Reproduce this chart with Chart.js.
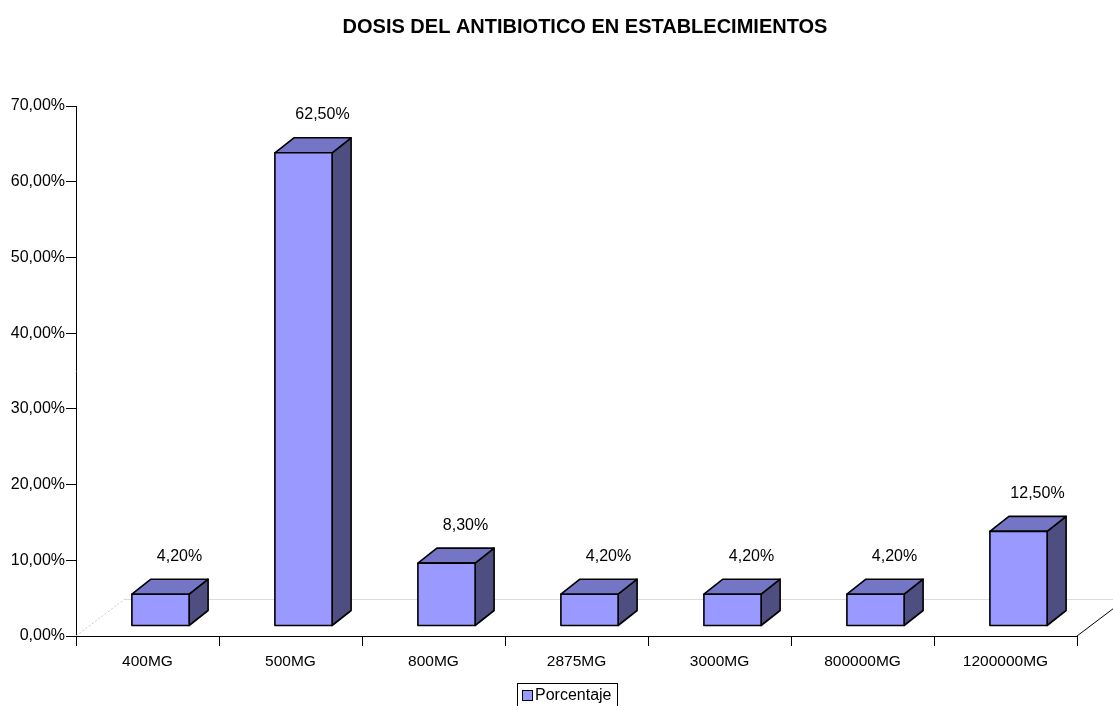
<!DOCTYPE html>
<html>
<head>
<meta charset="utf-8">
<title>Dosis del antibiotico</title>
<script src="https://cdn.jsdelivr.net/npm/chart.js@4/dist/chart.umd.min.js"></script>
<style>
  html, body { margin: 0; padding: 0; background: #fff; }
  #chart { display: block; }
</style>
</head>
<body>
<canvas id="chart" width="1113" height="706"></canvas>
<script>
const titleText = "DOSIS DEL ANTIBIOTICO EN ESTABLECIMIENTOS"
const categories = ["400MG", "500MG", "800MG", "2875MG", "3000MG", "800000MG", "1200000MG"]
const porcentaje = [4.2, 62.5, 8.3, 4.2, 4.2, 4.2, 12.5]
const seriesName = "Porcentaje"
const yTicks = [0, 10, 20, 30, 40, 50, 60, 70]

const FONT = "Arial, 'Liberation Sans', sans-serif"
const FRONT = "#9999ff"
const TOP = "#7575c6"
const SIDE = "#4e4e80"

// floor depth and where the bars sit inside it
const floorDepth = { dx: 49, dy: -37 }
const barShift = { dx: 13, dy: -10 }
const barDepth = { dx: 19, dy: -15 }

const fmtPct = v => v.toFixed(2).replace(".", ",") + "%"

function poly(ctx, pts, fill) {
  ctx.beginPath()
  ctx.moveTo(pts[0][0], pts[0][1])
  for (let i = 1; i < pts.length; i++) ctx.lineTo(pts[i][0], pts[i][1])
  ctx.closePath()
  ctx.fillStyle = fill
  ctx.fill()
  ctx.stroke()
}

const bars3d = {
  id: "bars3d",
  beforeDatasetsDraw(chart) {
    const { ctx, chartArea, scales } = chart
    const y0 = scales.y.getPixelForValue(0)
    ctx.save()
    // floor: dotted left edge, grey back edge, black right edge
    ctx.lineWidth = 1
    ctx.strokeStyle = "#c8c8c8"
    ctx.setLineDash([2, 2])
    ctx.beginPath()
    ctx.moveTo(chartArea.left, y0)
    ctx.lineTo(chartArea.left + floorDepth.dx, y0 + floorDepth.dy)
    ctx.stroke()
    ctx.setLineDash([])
    ctx.strokeStyle = "#dcdcdc"
    ctx.beginPath()
    ctx.moveTo(chartArea.left + floorDepth.dx, y0 + floorDepth.dy + 0.5)
    ctx.lineTo(chart.width, y0 + floorDepth.dy + 0.5)
    ctx.stroke()
    ctx.strokeStyle = "#000"
    ctx.beginPath()
    ctx.moveTo(chartArea.right, y0)
    ctx.lineTo(chartArea.right + floorDepth.dx, y0 + floorDepth.dy)
    ctx.stroke()
    ctx.restore()
  },
  afterDatasetsDraw(chart) {
    const { ctx } = chart
    const meta = chart.getDatasetMeta(0)
    ctx.save()
    ctx.lineWidth = 1.6
    ctx.lineJoin = "round"
    ctx.strokeStyle = "#000"
    meta.data.forEach((bar, i) => {
      const w = bar.width
      const l = bar.x - w / 2 + barShift.dx
      const r = bar.x + w / 2 + barShift.dx
      const t = bar.y + barShift.dy
      const b = bar.base + barShift.dy
      const ddx = barDepth.dx, ddy = barDepth.dy
      poly(ctx, [[r, t], [r + ddx, t + ddy], [r + ddx, b + ddy], [r, b]], SIDE)
      poly(ctx, [[l, t], [l + ddx, t + ddy], [r + ddx, t + ddy], [r, t]], TOP)
      poly(ctx, [[l, t], [r, t], [r, b], [l, b]], FRONT)

      ctx.fillStyle = "#000"
      ctx.font = "16px " + FONT
      ctx.textAlign = "center"
      ctx.textBaseline = "middle"
      ctx.fillText(fmtPct(porcentaje[i]), (l + r) / 2 + ddx, t + ddy - 23)
    })
    ctx.restore()
  },
  afterDraw(chart) {
    const { ctx } = chart
    ctx.save()
    ctx.fillStyle = "#000"
    ctx.font = "bold 20px " + FONT
    ctx.textAlign = "center"
    ctx.textBaseline = "middle"
    ctx.fillText(titleText, 585, 27)

    // legend box
    ctx.lineWidth = 1
    ctx.strokeStyle = "#000"
    ctx.strokeRect(517.5, 683.5, 100, 23)
    ctx.fillStyle = FRONT
    ctx.fillRect(522.5, 690.5, 10, 10)
    ctx.strokeRect(522.5, 690.5, 10, 10)
    ctx.fillStyle = "#000"
    ctx.font = "16px " + FONT
    ctx.textAlign = "left"
    ctx.fillText(seriesName, 535, 696)
    ctx.restore()
  }
}

new Chart(document.getElementById("chart"), {
  type: "bar",
  data: {
    labels: categories,
    datasets: [{
      label: seriesName,
      data: porcentaje,
      backgroundColor: "rgba(0,0,0,0)",
      borderWidth: 0,
      barPercentage: 0.4,
      categoryPercentage: 1
    }]
  },
  options: {
    responsive: false,
    animation: false,
    events: [],
    layout: { padding: { top: 106, right: 36, left: 0, bottom: 0 } },
    plugins: {
      legend: { display: false },
      title: { display: false },
      tooltip: { enabled: false }
    },
    scales: {
      x: {
        offset: true,
        afterFit: s => { s.height = 70 },
        border: { display: true, color: "#000", width: 1 },
        grid: { offset: true, drawOnChartArea: false, drawTicks: true, tickLength: 10, color: "#000" },
        ticks: { color: "#000", font: { family: FONT, size: 15.5 }, padding: 6, maxRotation: 0 }
      },
      y: {
        min: 0,
        max: 70,
        afterFit: s => { s.width = 76 },
        afterBuildTicks: s => { s.ticks = yTicks.map(v => ({ value: v })) },
        border: { display: true, color: "#000", width: 1 },
        grid: { drawOnChartArea: false, drawTicks: true, tickLength: 10, color: "#000" },
        ticks: {
          color: "#000",
          font: { family: FONT, size: 16 },
          padding: 1,
          callback: v => fmtPct(v)
        }
      }
    }
  },
  plugins: [bars3d]
})
</script>
</body>
</html>
